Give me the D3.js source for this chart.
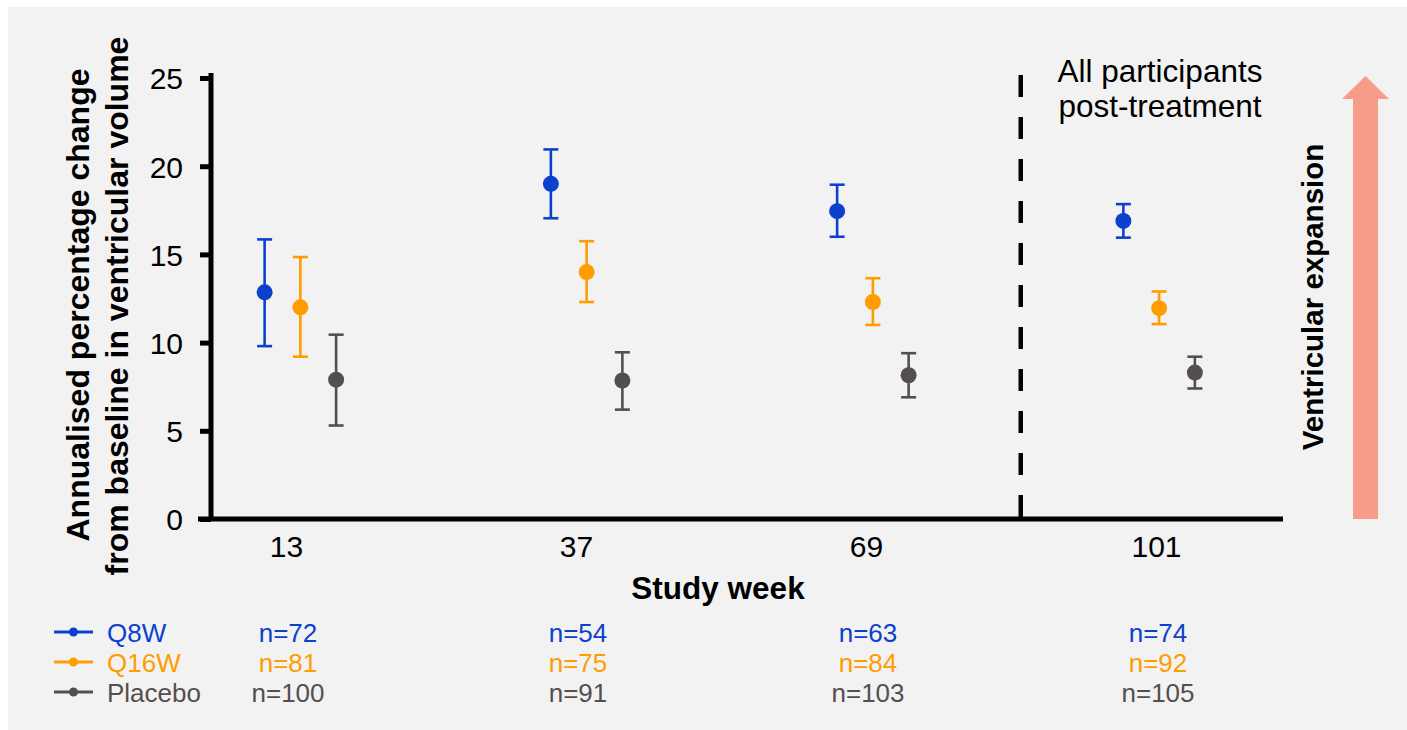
<!DOCTYPE html>
<html>
<head>
<meta charset="utf-8">
<script src="https://cdn.jsdelivr.net/npm/d3@7"></script>
<style>
  html, body { margin: 0; padding: 0; background: #ffffff; }
  svg { display: block; font-family: "Liberation Sans", Arial, sans-serif; }
</style>
</head>
<body>
<svg id="chart"></svg>
<script>
const WEEKS = ["13", "37", "69", "101"];
const SERIES = ["Q8W", "Q16W", "Placebo"];
const COLORS = ["#0b41cd", "#ff9d00", "#544f4f"];

const Q8W_MEAN = [12.85, 19.0, 17.45, 16.9];
const Q8W_LOW = [9.8, 17.05, 16.0, 15.95];
const Q8W_HIGH = [15.85, 20.95, 18.95, 17.85];

const Q16W_MEAN = [12.0, 14.0, 12.3, 11.95];
const Q16W_LOW = [9.2, 12.3, 11.0, 11.05];
const Q16W_HIGH = [14.85, 15.75, 13.65, 12.9];

const PLACEBO_MEAN = [7.9, 7.85, 8.15, 8.3];
const PLACEBO_LOW = [5.3, 6.2, 6.9, 7.4];
const PLACEBO_HIGH = [10.45, 9.45, 9.4, 9.2];

const N_Q8W = [72, 54, 63, 74];
const N_Q16W = [81, 75, 84, 92];
const N_PLACEBO = [100, 91, 103, 105];

const Y_TICKS = [0, 5, 10, 15, 20, 25];

const WIDTH = 1407;
const HEIGHT = 730;

const means = [Q8W_MEAN, Q16W_MEAN, PLACEBO_MEAN];
const lows = [Q8W_LOW, Q16W_LOW, PLACEBO_LOW];
const highs = [Q8W_HIGH, Q16W_HIGH, PLACEBO_HIGH];
const counts = [N_Q8W, N_Q16W, N_PLACEBO];

const points = [];
SERIES.forEach((s, si) => {
    WEEKS.forEach((w, wi) => {
        points.push({ series: s, si: si, week: w, mean: means[si][wi], low: lows[si][wi], high: highs[si][wi] });
    });
});

const svg = d3.select("#chart")
    .attr("width", WIDTH)
    .attr("height", HEIGHT);

// grey panel
svg.append("rect")
    .attr("x", 8).attr("y", 7)
    .attr("width", WIDTH - 8).attr("height", HEIGHT - 7)
    .attr("fill", "#f2f2f2");

const yScale = d3.scaleLinear()
    .domain([0, 25])
    .range([519, 78]);

// groups of markers
const groupScale = d3.scaleBand()
    .domain(WEEKS)
    .range([157, 1302]);

const seriesScale = d3.scalePoint()
    .domain(SERIES)
    .range([-35.5, 36]);

// tick label / n label positions
const labelScale = d3.scalePoint()
    .domain(WEEKS)
    .range([286, 1156]);

const px = d => groupScale(d.week) + groupScale.bandwidth() / 2 + seriesScale(d.series);

// y axis
const yAxis = svg.append("g")
    .attr("transform", "translate(211,0)")
    .call(d3.axisLeft(yScale).tickValues(Y_TICKS).tickSize(11).tickSizeOuter(0).tickPadding(17));
yAxis.select(".domain").attr("stroke", "#000").attr("stroke-width", 5)
    .attr("d", `M0,${yScale(25) - 5}V${yScale(0)}`);
yAxis.selectAll(".tick line").attr("stroke", "#000").attr("stroke-width", 5);
yAxis.selectAll(".tick text")
    .attr("fill", "#000")
    .style("font-size", "30px")
    .style("font-family", "'Liberation Sans', Arial, sans-serif")
    .attr("dy", "0.36em");

// x axis line
svg.append("line")
    .attr("x1", 198).attr("x2", 1283)
    .attr("y1", yScale(0)).attr("y2", yScale(0))
    .attr("stroke", "#000").attr("stroke-width", 5);

// x tick labels
const xAxis = svg.append("g")
    .attr("transform", `translate(0,${yScale(0)})`)
    .call(d3.axisBottom(labelScale).tickSize(0).tickPadding(38));
xAxis.select(".domain").remove();
xAxis.selectAll(".tick text")
    .attr("fill", "#000")
    .attr("dy", 0)
    .style("font-size", "30px")
    .style("font-family", "'Liberation Sans', Arial, sans-serif");

// dashed separator
const sepX = groupScale("101") + 5;
svg.append("line")
    .attr("x1", sepX).attr("x2", sepX)
    .attr("y1", 75).attr("y2", yScale(0))
    .attr("stroke", "#000").attr("stroke-width", 4.5)
    .attr("stroke-dasharray", "22,20");

svg.append("text")
    .attr("x", 1160).attr("y", 82)
    .attr("text-anchor", "middle")
    .style("font-size", "31.5px")
    .text("All participants");
svg.append("text")
    .attr("x", 1160).attr("y", 117)
    .attr("text-anchor", "middle")
    .style("font-size", "31.5px")
    .text("post-treatment");

// error bars
const marks = svg.append("g");
marks.selectAll(".err")
    .data(points)
    .enter()
    .append("line")
    .attr("class", "err")
    .attr("x1", px).attr("x2", px)
    .attr("y1", d => yScale(d.low)).attr("y2", d => yScale(d.high))
    .attr("stroke", d => COLORS[d.si]).attr("stroke-width", 2.6);

["low", "high"].forEach(k => {
    marks.selectAll(".cap-" + k)
        .data(points)
        .enter()
        .append("line")
        .attr("class", "cap-" + k)
        .attr("x1", d => px(d) - 7.5).attr("x2", d => px(d) + 7.5)
        .attr("y1", d => yScale(d[k])).attr("y2", d => yScale(d[k]))
        .attr("stroke", d => COLORS[d.si]).attr("stroke-width", 2.6);
});

marks.selectAll(".dot")
    .data(points)
    .enter()
    .append("circle")
    .attr("class", "dot")
    .attr("cx", px)
    .attr("cy", d => yScale(d.mean))
    .attr("r", 8)
    .attr("fill", d => COLORS[d.si]);

// axis titles
svg.append("text")
    .attr("transform", "translate(89,305) rotate(-90)")
    .attr("text-anchor", "middle")
    .style("font-size", "32px").style("font-weight", "bold")
    .text("Annualised percentage change");
svg.append("text")
    .attr("transform", "translate(128,306) rotate(-90)")
    .attr("text-anchor", "middle")
    .style("font-size", "32px").style("font-weight", "bold")
    .text("from baseline in ventricular volume");

svg.append("text")
    .attr("x", 718).attr("y", 599)
    .attr("text-anchor", "middle")
    .style("font-size", "31.5px").style("font-weight", "bold")
    .text("Study week");

// arrow
const ax0 = 1353, ax1 = 1378, hx0 = 1342, hx1 = 1389;
const tipY = yScale(25) - 2, headY = yScale(25) + 21;
svg.append("path")
    .attr("d", `M${ax0},${yScale(0)}V${headY}H${hx0}L${(hx0 + hx1) / 2},${tipY}L${hx1},${headY}H${ax1}V${yScale(0)}Z`)
    .attr("fill", "#f79c8a");

svg.append("text")
    .attr("transform", "translate(1323,297) rotate(-90)")
    .attr("text-anchor", "middle")
    .style("font-size", "29.5px").style("font-weight", "bold")
    .text("Ventricular expansion");

// legend + n table
const legendY = [632, 662, 692];
const legend = svg.append("g");
SERIES.forEach((s, si) => {
    const row = legend.append("g");
    row.append("line")
        .attr("x1", 54).attr("x2", 93)
        .attr("y1", legendY[si]).attr("y2", legendY[si])
        .attr("stroke", COLORS[si]).attr("stroke-width", 3);
    row.append("circle")
        .attr("cx", 73.5).attr("cy", legendY[si]).attr("r", 4.5)
        .attr("fill", COLORS[si]);
    row.append("text")
        .attr("x", 107).attr("y", legendY[si] + 10)
        .attr("fill", COLORS[si])
        .style("font-size", "26px")
        .text(s);
    row.selectAll(".n")
        .data(WEEKS)
        .enter()
        .append("text")
        .attr("class", "n")
        .attr("x", w => labelScale(w) + 2)
        .attr("y", legendY[si] + 10)
        .attr("text-anchor", "middle")
        .attr("fill", COLORS[si])
        .style("font-size", "26px")
        .text((w, wi) => "n=" + counts[si][wi]);
});
</script>
</body>
</html>
